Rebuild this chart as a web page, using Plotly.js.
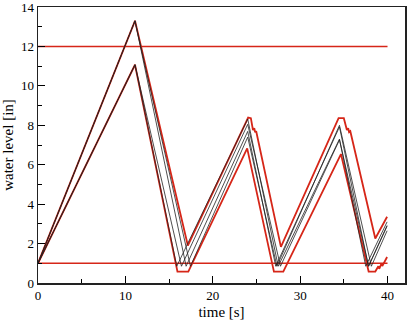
<!DOCTYPE html>
<html>
<head>
<meta charset="utf-8">
<script src="https://cdn.plot.ly/plotly-3.0.1.min.js"></script>
<style>
  html, body { margin: 0; padding: 0; background: #fff; }
  #plot { width: 415px; height: 324px; }
</style>
</head>
<body>
<div id="plot"></div>
<script>
// limits (red horizontal lines)
const tLimit = [0, 40];
const hHigh = [12, 12];
const hLow = [1, 1];

// upper red bound
const tRU = [0, 11.1, 17.15, 24.05, 24.36, 24.6, 24.75, 24.85, 24.97, 27.8, 34.4, 35.0, 35.35, 35.5, 35.6, 35.74, 38.6, 39.95];
const hRU = [1, 13.3, 1.9, 8.39, 8.36, 7.76, 7.85, 7.65, 7.7, 1.83, 8.36, 8.36, 7.76, 7.85, 7.65, 7.7, 2.26, 3.36];

// lower red bound
const tRL = [0, 11.1, 15.96, 17.2, 23.94, 27.0, 28.07, 34.67, 37.84, 38.6, 38.95, 39.05, 39.3, 39.4, 39.95];
const hRL = [1, 11.07, 0.58, 0.58, 6.83, 0.58, 0.58, 6.54, 0.58, 0.58, 0.85, 0.72, 0.98, 0.86, 1.32];

// black runs
const tB1 = [0, 11.1, 17.45, 24.0, 27.34, 34.5, 38.15, 39.95];
const hB1 = [1, 13.3, 0.85, 7.4, 0.85, 8.0, 0.85, 2.65];
const tB2 = [0, 11.1, 16.42, 24.0, 27.75, 34.5, 37.84, 39.95];
const hB2 = [1, 11.07, 0.85, 8.05, 0.85, 7.26, 0.85, 2.88];
const tB3 = [0, 11.1, 16.95, 24.0, 27.21, 34.5, 37.82, 39.95];
const hB3 = [1, 13.3, 0.85, 7.69, 0.85, 7.92, 0.85, 2.92];
const tB4 = [0, 11.1, 15.88, 24.0, 27.49, 34.5, 37.51, 39.95];
const hB4 = [1, 11.07, 0.85, 8.32, 0.85, 7.3, 0.85, 3.1];

const red = 'rgb(214,38,24)';

function line(x, y, color, width) {
    return { x: x, y: y, type: 'scatter', mode: 'lines',
             line: { color: color, width: width }, hoverinfo: 'skip', showlegend: false };
}

let traces = [
    line(tLimit, hHigh, red, 1.6),
    line(tLimit, hLow, red, 1.6),
    line(tRU, hRU, red, 1.8),
    line(tRL, hRL, red, 1.8),
    line(tB1, hB1, '#222', 0.8),
    line(tB2, hB2, '#222', 0.8),
    line(tB3, hB3, '#222', 0.8),
    line(tB4, hB4, '#222', 0.8)
];

let axisFont = { family: 'Liberation Serif, Times New Roman, serif', size: 13, color: '#000' };

let layout = {
    width: 415, height: 324,
    margin: { l: 38, r: 10, t: 7, b: 41 },
    paper_bgcolor: '#fff', plot_bgcolor: '#fff',
    font: axisFont,
    xaxis: {
        range: [0, 42], tickvals: [0, 10, 20, 30, 40],
        ticks: 'inside', ticklen: 7, tickcolor: '#000', tickwidth: 1,
        minor: { tickvals: [5, 15, 25, 35], ticks: 'inside', ticklen: 4, tickcolor: '#000', showgrid: false },
        showline: true, linecolor: '#222', linewidth: 1.5, mirror: true,
        showgrid: false, zeroline: false,
        tickfont: axisFont, ticklabeloverflow: 'allow',
        title: { text: 'time [s]', font: { family: axisFont.family, size: 15 }, standoff: 4 }
    },
    yaxis: {
        range: [0, 14], tickvals: [0, 2, 4, 6, 8, 10, 12, 14],
        ticks: 'inside', ticklen: 7, tickcolor: '#000', tickwidth: 1,
        minor: { dtick: 1, ticks: 'inside', ticklen: 4, tickcolor: '#000', showgrid: false },
        showline: true, linecolor: '#222', linewidth: 1.5, mirror: true,
        showgrid: false, zeroline: false,
        tickfont: axisFont, ticklabeloverflow: 'allow',
        title: { text: 'water level [in]', font: { family: axisFont.family, size: 15 }, standoff: 5 }
    }
};

Plotly.newPlot('plot', traces, layout, { staticPlot: true, displayModeBar: false });
</script>
</body>
</html>
